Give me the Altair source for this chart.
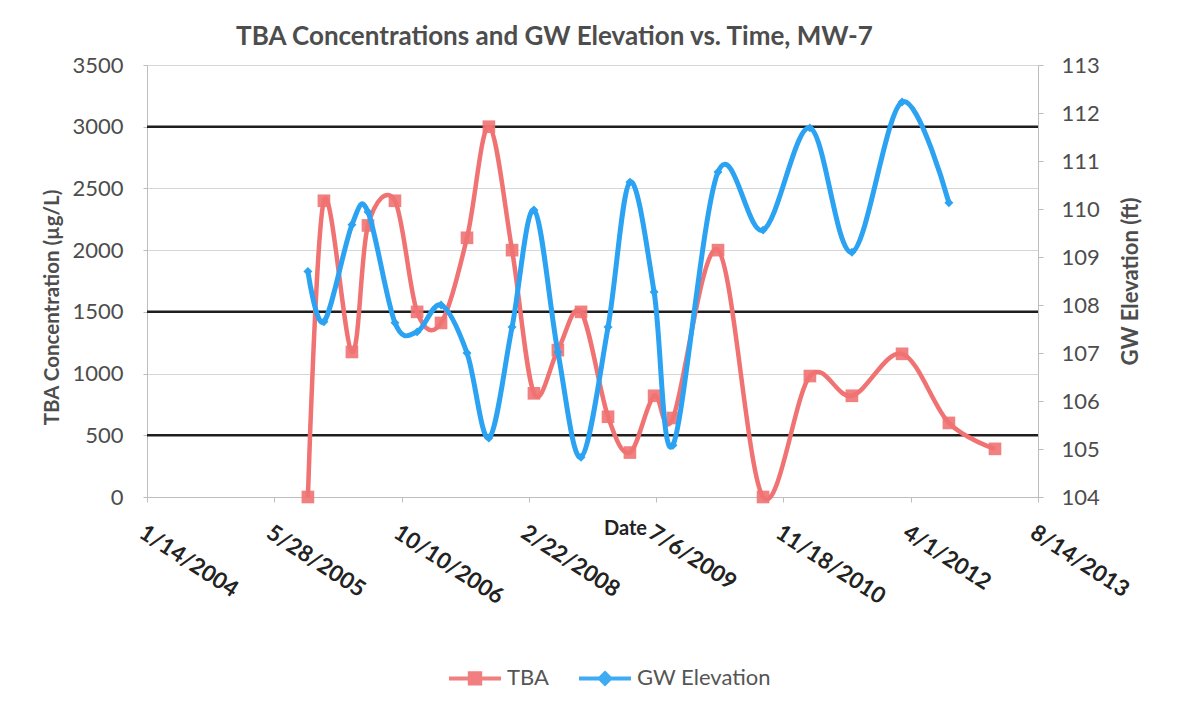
import altair as alt
import pandas as pd

# ---- data ----
dates = ["2005-10-07", "2005-12-09", "2006-03-29", "2006-05-31", "2006-09-14",
         "2006-12-10", "2007-03-14", "2007-06-24", "2007-09-18", "2007-12-18",
         "2008-03-13", "2008-06-15", "2008-09-14", "2008-12-29", "2009-03-25",
         "2009-06-28", "2009-09-10", "2010-03-06", "2010-08-30", "2011-03-02",
         "2011-08-14", "2012-02-27", "2012-08-29", "2013-02-26"]
tba = [0, 2400, 1175, 2200, 2400, 1500, 1410, 2100, 3000, 2000,
       840, 1190, 1500, 650, 360, 820, 640, 2000, 0, 980,
       820, 1160, 600, 390]
gw = [108.70, 107.65, 109.67, 109.94, 107.63, 107.44, 108.00, 107.00, 105.23, 107.54,
      109.98, 107.02, 104.83, 107.54, 110.56, 108.27, 105.08, 110.77, 109.56, 111.69,
      109.10, 112.23, 110.13, None]
x_ticks = ["2004-01-14", "2005-05-28", "2006-10-10", "2008-02-22",
           "2009-07-06", "2010-11-18", "2012-04-01", "2013-08-14"]
left_ticks = [0, 500, 1000, 1500, 2000, 2500, 3000, 3500]
right_ticks = [104, 105, 106, 107, 108, 109, 110, 111, 112, 113]
dark_grid = [500, 1500, 3000]
series = ["TBA", "GW Elevation"]
colors = ["#F07272", "#2BA3F2"]

df = pd.DataFrame({"date": dates, "tba": tba, "gw": gw})
grid_df = pd.DataFrame({"v": dark_grid})

FONT = "Lato"


def dt(s):
    y, m, d = map(int, s.split("-"))
    return alt.DateTime(year=y, month=m, date=d, utc=True)


x_enc = alt.X(
    "date:T",
    scale=alt.Scale(type="utc", domain=[dt(x_ticks[0]), dt(x_ticks[-1])]),
    axis=alt.Axis(
        values=[dt(s) for s in x_ticks],
        labelExpr="utcFormat(datum.value, '%-m/%-d/%Y')",
        labelAngle=33, labelAlign="left", labelBaseline="top", labelPadding=19,
        labelFontSize=22.5, labelFontWeight="bold", labelColor="#222222", labelFont=FONT,
        labelOverlap=False, labelBound=False, labelFlush=False,
        title="Date", titleX=478, titleY=31, titleAlign="center", titleBaseline="middle",
        titleFontSize=20, titleFontWeight="bold", titleColor="#222222", titleFont=FONT,
        domainColor="#bdbdbd", tickColor="#bdbdbd", tickSize=5, grid=False,
    ),
)


def left_y(field):
    return alt.Y(
        field,
        scale=alt.Scale(domain=[0, 3500], nice=False),
        axis=alt.Axis(
            orient="left", values=left_ticks, format="d", grid=True,
            gridColor="#d6d6d6", gridWidth=1.2,
            labelFontSize=22, labelColor="#4d4d4d", labelFont=FONT, labelPadding=20,
            title="TBA Concentration (µg/L)", titleFontSize=20.5, titleFontWeight="bold",
            titleColor="#4d4d4d", titleFont=FONT, titleX=-95, titleY=242,
            titleAngle=270, titleBaseline="middle", titleAlign="center",
            domainColor="#bdbdbd", tickColor="#bdbdbd", tickSize=4,
        ),
    )


right_y = alt.Y(
    "gw:Q",
    scale=alt.Scale(domain=[104, 113], nice=False, zero=False),
    axis=alt.Axis(
        orient="right", values=right_ticks, grid=False,
        labelFontSize=22, labelColor="#4d4d4d", labelFont=FONT, labelPadding=18,
        title="GW Elevation (ft)", titleFontSize=22, titleFontWeight="bold",
        titleColor="#4d4d4d", titleFont=FONT, titleX=92,
        titleAngle=270, titleBaseline="middle",
        domainColor="#bdbdbd", tickColor="#bdbdbd", tickSize=5,
    ),
)

sym_expr = ("datum.label == 'TBA' ? "
            "'M-1,0H1M-0.2,-0.2H0.2V0.2H-0.2Z' : "
            "'M-1,0H1M0,-0.2L0.2,0L0,0.2L-0.2,0Z'")

color_scale = alt.Scale(domain=series, range=colors)
legend = alt.Legend(
    orient="none", legendX=300, legendY=585, direction="horizontal", title=None,
    symbolType=alt.ExprRef(expr=sym_expr), symbolSize=2700, symbolStrokeWidth=4,
    labelFontSize=22, labelColor="#555555", labelFont=FONT, columnPadding=22, labelOffset=4,
)
color_enc = alt.Color("series:N", scale=color_scale, legend=legend)

tba_base = alt.Chart(df).transform_calculate(series="'TBA'")
gw_base = alt.Chart(df).transform_calculate(series="'GW Elevation'")

grid = alt.Chart(grid_df).mark_rule(color="#1e1e1e", strokeWidth=2.5).encode(
    y=left_y("v:Q")
)
tba_line = tba_base.mark_line(strokeWidth=4.5, interpolate="cardinal").encode(
    x=x_enc, y=left_y("tba:Q"), color=color_enc,
)
tba_pts = tba_base.mark_point(shape="square", filled=True, size=160, opacity=0.9).encode(
    x=x_enc, y=left_y("tba:Q"), color=color_enc,
)
gw_line = gw_base.mark_line(strokeWidth=5, interpolate="cardinal").encode(
    x=x_enc, y=right_y, color=color_enc,
)
gw_pts = gw_base.mark_point(shape="diamond", filled=True, size=80, opacity=1).encode(
    x=x_enc, y=right_y, color=color_enc,
)

left = alt.layer(grid, tba_line, tba_pts)
right = alt.layer(gw_line, gw_pts)

chart = (
    alt.layer(left, right)
    .resolve_scale(y="independent")
    .properties(
        width=891, height=432,
        padding={"left": 139, "top": 57, "right": 151, "bottom": 209},
        autosize=alt.AutoSizeParams(type="none"),
        background="white",
        title=alt.Title(
            "TBA Concentrations and GW Elevation vs. Time, MW-7",
            fontSize=26, font=FONT, fontWeight="bold", color="#4d4d4d",
            anchor="middle", dx=-38, offset=4,
        ),
    )
    .configure_view(stroke=None)
)

chart.save("out.html", embed_options={"renderer": "svg", "actions": False})
